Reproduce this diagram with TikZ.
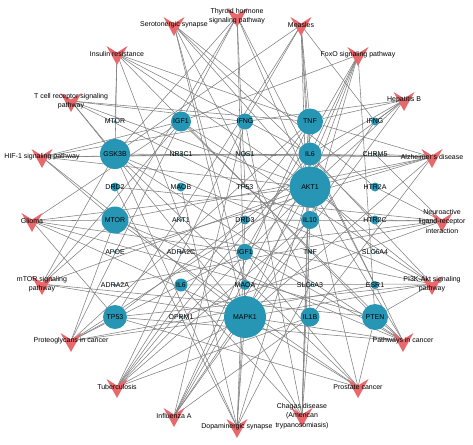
\documentclass[tikz,border=0pt]{standalone}
\usepackage{fontspec}
\setmainfont{Liberation Sans}
\usetikzlibrary{positioning}

\definecolor{geneblue}{RGB}{38,150,180}
\definecolor{pathred}{RGB}{232,104,107}
\definecolor{edgegray}{RGB}{128,128,128}

\pgfdeclarelayer{edges}
\pgfdeclarelayer{marks}
\pgfsetlayers{edges,marks,main}

\begin{document}
\begin{tikzpicture}[
  x=1pt, y=-1pt,
  gene/.style={circle, fill=geneblue, inner sep=0pt, minimum size=#1},
  pway/.style={align=center, inner sep=0pt, font=\fontsize{7}{9.5}\selectfont},
  every label/.style={font=\fontsize{7}{8}\selectfont, inner sep=0pt},
  edge/.style={draw=edgegray, line width=0.55pt}
]
\useasboundingbox (0,0) rectangle (473,444);

% pathways, clockwise from the right
\node[pway] (p0) at (442,221) {Neuroactive\\ligand-receptor\\interaction};
\node[pway] (p1) at (432,284) {PI3K-Akt signaling\\pathway};
\node[pway] (p2) at (403,341) {Pathways in cancer};
\node[pway] (p3) at (358,387) {Prostate cancer};
\node[pway] (p4) at (302,416) {Chagas disease\\(American\\trypanosomiasis)};
\node[pway] (p5) at (237,427) {Dopaminergic synapse};
\node[pway] (p6) at (174,416) {Influenza A};
\node[pway] (p7) at (117,387) {Tuberculosis};
\node[pway] (p8) at (71,341) {Proteoglycans in cancer};
\node[pway] (p9) at (42,284) {mTOR signaling\\pathway};
\node[pway] (p10) at (32,221) {Glioma};
\node[pway] (p11) at (42,157) {HIF-1 signaling pathway};
\node[pway] (p12) at (71,101) {T cell receptor signaling\\pathway};
\node[pway] (p13) at (117,54) {Insulin resistance};
\node[pway] (p14) at (174,25) {Serotonergic synapse};
\node[pway] (p15) at (237,16) {Thyroid hormone\\signaling pathway};
\node[pway] (p16) at (301,25) {Measles};
\node[pway] (p17) at (358,55) {FoxO signaling pathway};
\node[pway] (p18) at (404,100) {Hepatitis B};
\node[pway] (p19) at (432,157) {Alzheimer's disease};

% targets, row by row
\node[gene=3pt, label=center:MTOR] (g11) at (115,121.5) {};
\node[gene=20pt, label=center:IGF1] (g12) at (181,121.5) {};
\node[gene=16pt, label=center:IFNG] (g13) at (245,121.5) {};
\node[gene=26pt, label=center:TNF] (g14) at (310,121.5) {};
\node[gene=8pt, label=center:IFNG] (g15) at (375,121.5) {};

\node[gene=30pt, label=center:GSK3B] (g21) at (115,154) {};
\node[gene=3pt, label=center:NR3C1] (g22) at (181,154) {};
\node[gene=3pt, label=center:NOS1] (g23) at (245,154) {};
\node[gene=23pt, label=center:IL6] (g24) at (310,154) {};
\node[gene=3pt, label=center:CHRM5] (g25) at (375,154) {};

\node[gene=9pt, label=center:DRD2] (g31) at (115,187) {};
\node[gene=9pt, label=center:MAOB] (g32) at (181,187) {};
\node[gene=3pt, label=center:TP53] (g33) at (245,187) {};
\node[gene=41pt, label=center:AKT1] (g34) at (310,187) {};
\node[gene=9pt, label=center:HTR2A] (g35) at (375,187) {};

\node[gene=27pt, label=center:MTOR] (g41) at (115,220) {};
\node[gene=3pt, label=center:AKT1] (g42) at (181,220) {};
\node[gene=9pt, label=center:DRD3] (g43) at (245,220) {};
\node[gene=18pt, label=center:IL10] (g44) at (310,220) {};
\node[gene=9pt, label=center:HTR2C] (g45) at (375,220) {};

\node[gene=3pt, label=center:APOE] (g51) at (115,252) {};
\node[gene=3pt, label=center:ADRA2C] (g52) at (181,252) {};
\node[gene=16pt, label=center:IGF1] (g53) at (245,252) {};
\node[gene=3pt, label=center:TNF] (g54) at (310,252) {};
\node[gene=3pt, label=center:SLC6A4] (g55) at (375,252) {};

\node[gene=3pt, label=center:ADRA2A] (g61) at (115,285) {};
\node[gene=13pt, label=center:IL6] (g62) at (181,285) {};
\node[gene=10pt, label=center:MAOA] (g63) at (245,285) {};
\node[gene=3pt, label=center:SLC6A3] (g64) at (310,285) {};
\node[gene=8pt, label=center:ESR1] (g65) at (375,285) {};

\node[gene=24pt, label=center:TP53] (g71) at (115,317) {};
\node[gene=3pt, label=center:OPRM1] (g72) at (181,317) {};
\node[gene=42pt, label=center:MAPK1] (g73) at (245,317) {};
\node[gene=19pt, label=center:IL1B] (g74) at (310,317) {};
\node[gene=26pt, label=center:PTEN] (g75) at (375,317) {};

% V marks under the pathway names
\begin{pgfonlayer}{marks}
\foreach \i in {0,...,19}
  \fill[pathred, shift={(p\i.center)}] (-10.5,-8) -- (0,-1.5) -- (10.5,-8) -- (0,11) -- cycle;
\end{pgfonlayer}

% links
\begin{pgfonlayer}{edges}
\foreach \p/\gl in {
  0/{35,45,25,31,43,61,52,72},
  1/{34,41,21,12,24,75,71,73,62},
  2/{34,41,21,12,24,75,71,73,53},
  3/{34,41,21,53,75,71,73},
  4/{14,24,44,74,13,73,62},
  5/{73,31,43,21,34,63,32,64},
  6/{14,24,74,13,73,34,15},
  7/{14,24,44,74,13,73,34,62},
  8/{34,41,12,71,73,65,14,53},
  9/{34,41,21,12,73,75},
  10/{34,41,12,75,71,73,53},
  11/{34,41,12,24,13,73,23},
  12/{34,21,13,14,44,73},
  13/{11,34,21,24,14,75,42},
  14/{35,45,63,55,73,64},
  15/{34,41,21,33,73,65,12},
  16/{14,24,34,74,13,71,21,15},
  17/{34,12,24,44,73,75,53},
  18/{34,14,24,73,71,13,15},
  19/{34,21,41,14,24,74,51,73,23,25}}
  \foreach \g in \gl
    \draw[edge] (p\p.center) -- (g\g);
\end{pgfonlayer}
\end{tikzpicture}
\end{document}
